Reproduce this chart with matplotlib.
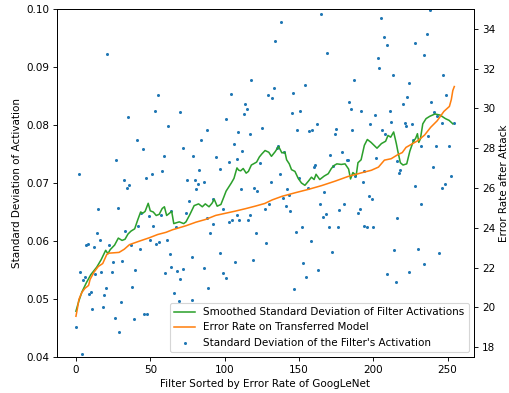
import matplotlib
matplotlib.use("Agg")
import matplotlib.pyplot as plt

# Scatter: standard deviation of each filter's activation (visible points)
scatter_x = [21, 55, 53, 35, 41, 45, 27, 2, 32, 36, 47, 51, 58, 59,
             118, 104, 114, 115, 113, 70, 62, 101, 88, 84, 109, 117, 125, 106, 72, 79, 94, 112,
             103, 108, 124, 83, 97, 75, 80, 86, 82,
             165, 138, 134, 169, 187, 154, 133, 129, 132, 146, 184, 185, 192, 145, 151, 162, 149,
             157, 159, 175, 174, 186, 135, 136, 140, 171, 179, 182, 183, 160, 161, 173, 137, 131,
             150, 194, 188, 193,
             238, 205, 236, 207, 209, 228, 234, 203, 204, 213, 247, 224, 249, 223, 220, 239, 211,
             201, 241, 212, 198, 221, 222, 226, 246, 254, 206, 208, 243, 227, 237, 232, 242, 251,
             202, 216, 218, 217, 240, 252, 248,
             34, 15, 28, 44, 49, 57, 52, 42, 33, 14, 16, 7, 8, 12, 22, 37, 43, 50, 54, 56,
             25, 31, 3, 6, 5, 13, 17, 24, 40, 20, 38, 10, 9, 19, 30, 11, 18, 26, 39, 46, 48, 0, 29, 4,
             81, 92, 76, 111, 120, 122, 64, 74, 108, 117, 99, 88, 92, 103, 105, 110, 116, 67, 90,
             121, 61, 63, 78, 97, 107, 119, 64, 60, 68, 72, 86, 99, 101, 70, 89, 66, 78, 69,
             142, 143, 139, 156, 167, 127, 130, 141, 144, 164, 168, 166, 180, 177, 191, 190, 194,
             152, 148, 170, 176, 128, 158, 172, 153, 163, 155, 147,
             228, 246, 197, 199, 232, 216, 196, 200, 214, 230, 244, 234, 224, 209, 215]
scatter_y = [0.0922, 0.0851, 0.0824, 0.0814, 0.0774, 0.0758, 0.0740, 0.0716, 0.0706, 0.0697, 0.0709, 0.0716, 0.0720, 0.0747,
             0.0878, 0.0853, 0.0837, 0.0827, 0.0819, 0.0822, 0.0798, 0.0810, 0.0791, 0.0774, 0.0788, 0.0784, 0.0795, 0.0767, 0.0760, 0.0747, 0.0745, 0.0755,
             0.0737, 0.0741, 0.0734, 0.0722, 0.0724, 0.0706, 0.0705, 0.0701, 0.0698,
             0.0991, 0.0978, 0.0944, 0.0924, 0.0878, 0.0869, 0.0863, 0.0852, 0.0846, 0.0856, 0.0839, 0.0827, 0.0825, 0.0821, 0.0824, 0.0802, 0.0792,
             0.0790, 0.0792, 0.0793, 0.0784, 0.0791, 0.0760, 0.0763, 0.0753, 0.0749, 0.0753, 0.0739, 0.0739, 0.0728, 0.0731, 0.0729, 0.0716, 0.0701,
             0.0709, 0.0721, 0.0712, 0.0701,
             0.0998, 0.0984, 0.0957, 0.0951, 0.0938, 0.0941, 0.0920, 0.0915, 0.0899, 0.0887, 0.0886, 0.0872, 0.0852, 0.0849, 0.0836, 0.0839, 0.0824,
             0.0817, 0.0822, 0.0806, 0.0801, 0.0803, 0.0799, 0.0802, 0.0803, 0.0803, 0.0791, 0.0784, 0.0816, 0.0774, 0.0781, 0.0764, 0.0764, 0.0764,
             0.0743, 0.0738, 0.0722, 0.0717, 0.0728, 0.0712, 0.0699,
             0.0691, 0.0655, 0.0657, 0.0649, 0.0643, 0.0644, 0.0626, 0.0626, 0.0618, 0.0614, 0.0602, 0.0593, 0.0595, 0.0589, 0.0593, 0.0593, 0.0586, 0.0602, 0.0594, 0.0598,
             0.0564, 0.0565, 0.0546, 0.0538, 0.0533, 0.0543, 0.0547, 0.0546, 0.0550, 0.0519, 0.0521, 0.0512, 0.0508, 0.0507, 0.0494, 0.0482, 0.0486, 0.0467, 0.0466, 0.0474, 0.0475, 0.0451, 0.0443, 0.0405,
             0.0689, 0.0673, 0.0669, 0.0690, 0.0692, 0.0686, 0.0651, 0.0648, 0.0644, 0.0644, 0.0656, 0.0640, 0.0629, 0.0632, 0.0637, 0.0637, 0.0637, 0.0625, 0.0614,
             0.0613, 0.0601, 0.0578, 0.0572, 0.0579, 0.0563, 0.0567, 0.0556, 0.0544, 0.0549, 0.0551, 0.0553, 0.0545, 0.0537, 0.0534, 0.0519, 0.0510, 0.0498, 0.0496,
             0.0689, 0.0680, 0.0675, 0.0691, 0.0684, 0.0655, 0.0663, 0.0660, 0.0652, 0.0663, 0.0647, 0.0641, 0.0663, 0.0653, 0.0656, 0.0649, 0.0626,
             0.0625, 0.0616, 0.0624, 0.0624, 0.0597, 0.0600, 0.0581, 0.0562, 0.0550, 0.0538, 0.0518,
             0.0694, 0.0691, 0.0677, 0.0672, 0.0663, 0.0639, 0.0625, 0.0624, 0.0584, 0.0586, 0.0579, 0.0561, 0.0547, 0.0543, 0.0529]

# Smoothed standard deviation (green line)
smooth_x = [0, 2, 4, 7, 10, 14, 17, 20, 21.5, 23, 26, 28.5, 31, 33, 35, 37, 39.5, 41.5, 43.5, 45,
            46.5, 48.6, 50, 52, 54, 56, 58, 59.5, 61, 62.5, 64.4, 65.8, 67, 69.5, 72.5, 74, 76.5,
            79.5, 82.5, 85, 87, 89.5, 91.5, 93, 95, 97.5, 99.5, 101, 103, 104.5, 106.3, 108.3,
            109.5, 110.8, 112.5, 114.5, 116, 118, 121.5, 123.4, 125, 127.2, 129.7, 131.5, 134,
            136.3, 138.5, 140.6, 141.7, 143.5, 145, 147.3, 149.5, 151.7, 154, 156.3, 158.4, 160.2,
            161.5, 164, 167, 169.7, 171.8, 173.5, 175.5, 178.5, 181, 183.4, 184.7, 186.3, 188.5,
            189.7, 191.8, 194, 196, 198.5, 200.5, 202.5, 205.5, 208.3, 209.9, 211.7, 213.7, 215.5,
            216.5, 218.2, 220, 222.5, 224.6, 226.8, 228.5, 229.7, 230.6, 231.7, 233.3, 235.5, 238,
            241.5, 245, 248.5, 251, 253.5]
smooth_y = [0.0479, 0.0497, 0.0512, 0.0528, 0.0542, 0.0555, 0.0568, 0.0584, 0.0578, 0.0585,
            0.0593, 0.0605, 0.0601, 0.0603, 0.0612, 0.0617, 0.0621, 0.0636, 0.0650, 0.0648,
            0.0651, 0.0665, 0.0652, 0.0650, 0.0644, 0.0646, 0.0656, 0.0659, 0.0644, 0.0647,
            0.0651, 0.0630, 0.0631, 0.0633, 0.0630, 0.0633, 0.0645, 0.0661, 0.0664, 0.0659,
            0.0664, 0.0659, 0.0665, 0.0672, 0.0660, 0.0663, 0.0676, 0.0686, 0.0694, 0.0700,
            0.0708, 0.0726, 0.0722, 0.0721, 0.0725, 0.0717, 0.0720, 0.0731, 0.0736, 0.0745,
            0.0750, 0.0756, 0.0753, 0.0746, 0.0754, 0.0763, 0.0752, 0.0753, 0.0740, 0.0733,
            0.0723, 0.0720, 0.0708, 0.0700, 0.0696, 0.0703, 0.0710, 0.0706, 0.0715, 0.0706,
            0.0712, 0.0716, 0.0725, 0.0730, 0.0733, 0.0732, 0.0733, 0.0724, 0.0707, 0.0718,
            0.0713, 0.0735, 0.0740, 0.0765, 0.0775, 0.0770, 0.0765, 0.0760, 0.0768, 0.0772,
            0.0782, 0.0779, 0.0788, 0.0768, 0.0755, 0.0735, 0.0731, 0.0733, 0.0755, 0.0771,
            0.0777, 0.0785, 0.0770, 0.0776, 0.0802, 0.0811, 0.0815, 0.0819, 0.0817, 0.0811,
            0.0808, 0.0802]

# Error rate on transferred model (orange line, right axis)
err_x = [0, 1, 2, 4, 6, 8.5, 9.5, 12, 15, 18, 20.7, 22, 29, 32.5, 36, 42.8, 49.5, 55, 60.6, 65,
         74, 80.7, 87.3, 94, 100.7, 107.4, 114.1, 120.8, 127, 132, 138.6, 147.5, 156.4, 165.3,
         174.2, 183.1, 192, 198.7, 203.5, 207.5, 212, 216.6, 219.5, 222, 225.5, 230, 234.5,
         238.6, 243, 247.5, 251.2, 252.5, 253.5, 254.5]
err_y = [19.55, 19.95, 20.40, 20.75, 20.95, 21.10, 21.40, 21.75, 22.05, 22.20, 22.65, 22.72,
         22.76, 22.92, 23.15, 23.33, 23.50, 23.66, 23.77, 23.90, 24.10, 24.28, 24.42, 24.62,
         24.73, 24.84, 24.96, 25.09, 25.22, 25.40, 25.58, 25.76, 25.93, 26.12, 26.34, 26.58,
         26.76, 26.89, 27.05, 27.40, 27.47, 27.68, 27.78, 28.04, 28.19, 28.38, 28.66, 29.05,
         29.38, 29.85, 30.10, 30.45, 30.90, 31.10]

left_ticks = [0.04, 0.05, 0.06, 0.07, 0.08, 0.09, 0.10]
right_ticks = [18, 20, 22, 24, 26, 28, 30, 32, 34]

plt.rcParams["font.size"] = 9.4
plt.rcParams["font.family"] = ["DejaVu Sans"]

fig = plt.figure(figsize=(509 / 80, 393 / 80), dpi=80)
ax = fig.add_subplot(111)
fig.subplots_adjust(left=57 / 509, right=474 / 509, top=1 - 9 / 393, bottom=1 - 357 / 393)

sc = ax.scatter(scatter_x, scatter_y, s=3, color="C0",
                label="Standard Deviation of the Filter's Activation")
ln_g, = ax.plot(smooth_x, smooth_y, color="C2", lw=1.4,
                label="Smoothed Standard Deviation of Filter Activations")
ax.set_ylim(0.04, 0.10)
ax.set_yticks(left_ticks)
ax.set_yticklabels(["%.2f" % t for t in left_ticks])
ax.set_xlim(-12.75, 267.75)
ax.set_xlabel("Filter Sorted by Error Rate of GoogLeNet")
ax.set_ylabel("Standard Deviation of Activation")

ax2 = ax.twinx()
ln_o, = ax2.plot(err_x, err_y, color="C1", lw=1.4, label="Error Rate on Transferred Model")
ax2.set_ylim(17.5, 35.0)
ax2.set_yticks(right_ticks)
ax2.set_ylabel("Error Rate after Attack")

ax2.legend([ln_g, ln_o, sc], [ln_g.get_label(), ln_o.get_label(), sc.get_label()],
           loc="lower right")

fig.savefig("out.png", dpi=80)
